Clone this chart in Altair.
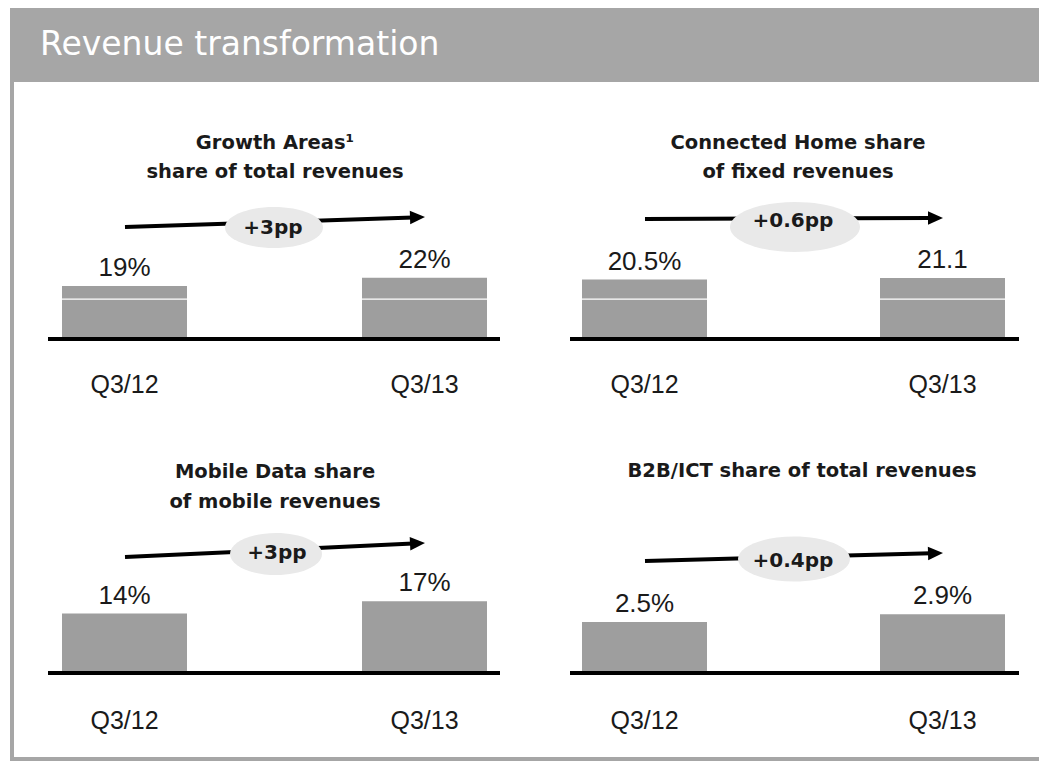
import math
import altair as alt
import pandas as pd

# ---------------- data ----------------
HEADER = "Revenue transformation"
PERIODS = ["Q3/12", "Q3/13"]
PANEL_TITLES = [
    ["Growth Areas\u00b9", "share of total revenues"],
    ["Connected Home share", "of fixed revenues"],
    ["Mobile Data share", "of mobile revenues"],
    ["B2B/ICT share of total revenues"],
]
VALUES = [[19, 22], [20.5, 21.1], [14, 17], [2.5, 2.9]]
VALUE_LABELS = [["19%", "22%"], ["20.5%", "21.1"], ["14%", "17%"], ["2.5%", "2.9%"]]
CHANGE_LABELS = ["+3pp", "+0.6pp", "+3pp", "+0.4pp"]

# ---------------- layout (page pixels) ----------------
OX, OY = 8, 8
W, H = 1047 - 2 * OX, 769 - 2 * OY
BAR_W = 125
LAYOUT = [
    dict(bar_x=(62, 487), bottom=337, k=2.69, base_x=(48, 500), white_y=299,
         title_x=275, title_y=[149, 178], arrow=((125, 227), (425, 217)),
         ell=(274, 227.5, 98, 41), chg=(273, 234), xlab_y=393),
    dict(bar_x=(582, 1005), bottom=337, k=2.8, base_x=(570, 1019), white_y=299,
         title_x=798, title_y=[149, 178], arrow=((645, 219), (943, 218)),
         ell=(795, 227, 130, 50), chg=(793, 227), xlab_y=393),
    dict(bar_x=(62, 487), bottom=671, k=4.1, base_x=(48, 500), white_y=None,
         title_x=275, title_y=[478, 508], arrow=((125, 557), (425, 543)),
         ell=(276, 554, 92, 42), chg=(277, 559), xlab_y=729),
    dict(bar_x=(582, 1005), bottom=671, k=19.6, base_x=(570, 1019), white_y=None,
         title_x=802, title_y=[477], arrow=((645, 561), (943, 553)),
         ell=(794, 559, 112, 45), chg=(793, 567), xlab_y=729),
]

GRAY = "#a6a6a6"
BAR = "#9e9e9e"
ELL = "#e9e9e9"
TXT = "#1a1a1a"
TITLE_FONT = "DejaVu Sans"
NUM_FONT = "Liberation Sans"


def px(v):
    return v - OX


def py(v):
    return v - OY


one = pd.DataFrame({"a": [0]})


def ellipse_path(r):
    kk = 0.5523
    return (f"M1,0 C1,{kk*r:.4f} {kk:.4f},{r:.4f} 0,{r:.4f} "
            f"C{-kk:.4f},{r:.4f} -1,{kk*r:.4f} -1,0 "
            f"C-1,{-kk*r:.4f} {-kk:.4f},{-r:.4f} 0,{-r:.4f} "
            f"C{kk:.4f},{-r:.4f} 1,{-kk*r:.4f} 1,0 Z")


ARROW_HEAD = "M-1,-0.9 L1,0 L-1,0.9 Z"

layers = []

# frame
layers.append(alt.Chart(one).mark_rect(color=GRAY).encode(
    x=alt.value(px(10)), x2=alt.value(W), y=alt.value(0), y2=alt.value(py(82))))
layers.append(alt.Chart(one).mark_rect(color=GRAY).encode(
    x=alt.value(px(10)), x2=alt.value(px(14)), y=alt.value(py(82)), y2=alt.value(H)))
layers.append(alt.Chart(one).mark_rect(color=GRAY).encode(
    x=alt.value(px(10)), x2=alt.value(W), y=alt.value(H - 4), y2=alt.value(H)))
layers.append(alt.Chart(one).mark_text(
    font=TITLE_FONT, fontSize=33, color="white", align="left", baseline="alphabetic"
).encode(x=alt.value(px(40)), y=alt.value(py(55)), text=alt.value(HEADER)))

for i, L in enumerate(LAYOUT):
    df = pd.DataFrame({"period": PERIODS, "value": VALUES[i], "label": VALUE_LABELS[i]})
    x0, x1 = L["bar_x"]
    step = (x1 - x0) - BAR_W
    pin = 1 - BAR_W / step
    dmax = max(VALUES[i]) * 1.5
    bot = py(L["bottom"])
    xs = alt.Scale(domain=PERIODS, range=[px(x0), px(x1)], paddingInner=pin, paddingOuter=0)
    ys = alt.Scale(domain=[0, dmax], range=[bot, bot - dmax * L["k"]], nice=False, zero=True)
    X = alt.X("period:N", scale=xs, axis=None, sort=PERIODS)
    Y = alt.Y("value:Q", scale=ys, axis=None)

    base = alt.Chart(df)
    sub = []
    sub.append(base.mark_bar(color=BAR).encode(x=X, y=Y))
    if L["white_y"]:
        sub.append(base.mark_bar(color="white").encode(
            x=X, y=alt.value(py(L["white_y"]) - 0.6), y2=alt.value(py(L["white_y"]) + 0.7)))
    sub.append(base.mark_text(font=NUM_FONT, fontSize=26, color=TXT, baseline="alphabetic",
                              align="center", dy=-10).encode(x=X, y=Y, text="label:N"))
    sub.append(base.mark_text(font=NUM_FONT, fontSize=25, color=TXT, baseline="alphabetic",
                              align="center").encode(x=X, y=alt.value(py(L["xlab_y"])),
                                                     text="period:N"))
    # baseline
    bx0, bx1 = L["base_x"]
    sub.append(alt.Chart(one).mark_rule(color="black", strokeWidth=4).encode(
        x=alt.value(px(bx0)), x2=alt.value(px(bx1)),
        y=alt.value(bot + 2), y2=alt.value(bot + 2)))
    # titles
    for line, ty in zip(PANEL_TITLES[i], L["title_y"]):
        sub.append(alt.Chart(one).mark_text(
            font=TITLE_FONT, fontSize=19.5, fontWeight="bold", color=TXT,
            align="center", baseline="alphabetic"
        ).encode(x=alt.value(px(L["title_x"])), y=alt.value(py(ty)), text=alt.value(line)))
    # arrow
    (ax0, ay0), (ax1, ay1) = L["arrow"]
    dx, dy = ax1 - ax0, ay1 - ay0
    ln = math.hypot(dx, dy)
    ux, uy = dx / ln, dy / ln
    ang = math.degrees(math.atan2(dy, dx)) % 360
    sub.append(alt.Chart(one).mark_rule(color="black", strokeWidth=4, strokeCap="butt").encode(
        x=alt.value(px(ax0)), y=alt.value(py(ay0)),
        x2=alt.value(px(ax1 - 12 * ux)), y2=alt.value(py(ay1 - 12 * uy))))
    sub.append(alt.Chart(one).mark_point(
        shape=ARROW_HEAD, filled=True, size=225, angle=ang, color="black", opacity=1, strokeWidth=0
    ).encode(x=alt.value(px(ax1 - 7.5 * ux)), y=alt.value(py(ay1 - 7.5 * uy))))
    # ellipse + change label
    ecx, ecy, ew, eh = L["ell"]
    sub.append(alt.Chart(one).mark_point(
        shape=ellipse_path(eh / ew), filled=True, size=ew * ew, color=ELL, opacity=1, strokeWidth=0
    ).encode(x=alt.value(px(ecx)), y=alt.value(py(ecy))))
    cx, cy = L["chg"]
    sub.append(alt.Chart(one).mark_text(
        font=TITLE_FONT, fontSize=20, fontWeight="bold", color=TXT,
        align="center", baseline="alphabetic"
    ).encode(x=alt.value(px(cx)), y=alt.value(py(cy)), text=alt.value(CHANGE_LABELS[i])))

    layers.append(alt.layer(*sub))

chart = alt.layer(*layers).resolve_scale(x="independent", y="independent").properties(
    width=W, height=H, padding=0, autosize=alt.AutoSizeParams(type="none"),
    background="white"
).configure_view(stroke=None)

chart.save("out.html", embed_options={"renderer": "svg", "actions": False})
